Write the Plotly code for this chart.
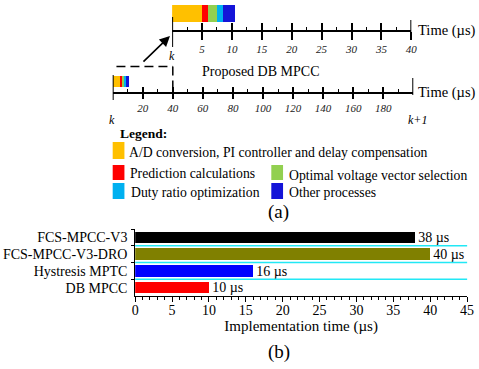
import plotly.graph_objects as go

W, H = 479, 369
SERIF = "Liberation Serif"

# Breakdown of one DB MPCC control period (µs)
processes = [
    "A/D conversion, PI controller and delay compensation",
    "Prediction calculations",
    "Optimal voltage vector selection",
    "Duty ratio optimization",
    "Other processes",
]
process_times = [5.0, 1.0, 1.6, 1.0, 1.9]
process_colors = ["#FFC000", "#FF0000", "#92D050", "#00B0F0", "#1414D8"]

zoom_ticks = [5, 10, 15, 20, 25, 30, 35, 40]
zoom_minor = [2.5, 7.5, 12.5, 17.5, 22.5, 27.5, 32.5, 37.5]
period_ticks = [20, 40, 60, 80, 100, 120, 140, 160, 180]
period_minor = [10, 30, 50, 70, 90, 110, 130, 150, 170, 190]
zoom_span = 40
period = 200

# Implementation time comparison
methods = ["FCS-MPCC-V3", "FCS-MPCC-V3-DRO", "Hystresis MPTC", "DB MPCC"]
impl_times = [38, 40, 16, 10]
method_colors = ["#000000", "#808000", "#0000FF", "#FF0000"]


def px(x):
    return x / W


def py(y):
    return 1 - y / H


fig = go.Figure()

# (a) stacked process bars on the magnified and the full-period time axes
for name, t, c in zip(processes, process_times, process_colors):
    for xa, ya in (("x2", "y2"), ("x3", "y3")):
        fig.add_trace(go.Bar(
            x=[t], y=[0], orientation="h", width=1, name=name,
            marker=dict(color=c, line=dict(width=0)),
            xaxis=xa, yaxis=ya, showlegend=False, hoverinfo="skip",
        ))

# helper traces so the overlay tick axes get drawn
fig.add_trace(go.Scatter(x=[None], y=[None], xaxis="x4", yaxis="y2",
                         showlegend=False, hoverinfo="skip"))
fig.add_trace(go.Scatter(x=[None], y=[None], xaxis="x5", yaxis="y3",
                         showlegend=False, hoverinfo="skip"))

# (b) implementation time bars
fig.add_trace(go.Bar(
    x=impl_times, y=methods, orientation="h", width=0.7,
    marker=dict(color=method_colors, line=dict(width=0)),
    texttemplate="%{x} µs", textposition="outside", constraintext="none",
    textfont=dict(family=SERIF, size=14, color="black"),
    cliponaxis=False, showlegend=False, hoverinfo="skip",
    xaxis="x", yaxis="y",
))

tick_font_it = dict(family=SERIF, size=11, color="#222", style="italic")
common_time_axis = dict(showgrid=False, zeroline=False, fixedrange=True)

layout_axes = dict(
    xaxis=dict(
        domain=[px(134), px(473)], range=[0, 45], anchor="y",
        showline=True, linecolor="black", linewidth=1,
        ticks="outside", ticklen=5, tickcolor="black", tick0=0, dtick=5,
        minor=dict(ticks="outside", ticklen=3, dtick=1, tickcolor="black"),
        showgrid=False, zeroline=False, ticklabelstandoff=-4,
        tickfont=dict(family=SERIF, size=14, color="black"),
        title=dict(text="Implementation time (µs)", standoff=0,
                   font=dict(family=SERIF, size=15, color="black")),
    ),
    yaxis=dict(
        domain=[py(296), py(229)], anchor="x", type="category",
        categoryorder="array", categoryarray=methods, range=[3.5, -0.5],
        tickmode="linear", tick0=0, dtick=1,
        showline=True, linecolor="black", linewidth=1,
        ticks="outside", ticklen=3, tickcolor="black", tickson="boundaries",
        showgrid=False, zeroline=False, ticklabelstandoff=4,
        tickfont=dict(family=SERIF, size=14, color="black"),
    ),
    xaxis2=dict(
        domain=[px(171.7), px(416)], range=[0, zoom_span], anchor="free",
        position=py(31), showline=True, linecolor="black", linewidth=1.5,
        tickmode="array", tickvals=zoom_ticks, ticks="outside", ticklen=8,
        tickwidth=1.6, tickcolor="black", tickfont=tick_font_it,
        **common_time_axis,
    ),
    xaxis4=dict(
        overlaying="x2", range=[0, zoom_span], anchor="free", position=py(31),
        showline=False, tickmode="array", tickvals=zoom_ticks,
        ticks="inside", ticklen=8, tickwidth=1.6, tickcolor="black",
        showticklabels=False,
        minor=dict(tickmode="array", tickvals=zoom_minor, ticks="inside",
                   ticklen=4, tickwidth=1.2, tickcolor="black"),
        **common_time_axis,
    ),
    yaxis2=dict(domain=[py(22), py(5)], range=[-0.5, 0.5], anchor="x2",
                visible=False, fixedrange=True),
    xaxis3=dict(
        domain=[px(111), px(418)], range=[0, period], anchor="free",
        position=py(93), showline=True, linecolor="black", linewidth=1.5,
        tickmode="array", tickvals=period_ticks, ticks="outside", ticklen=5,
        tickwidth=1.6, tickcolor="black", tickfont=tick_font_it,
        **common_time_axis,
    ),
    xaxis5=dict(
        overlaying="x3", range=[0, period], anchor="free", position=py(93),
        showline=False, tickmode="array", tickvals=period_ticks,
        ticks="inside", ticklen=6, tickwidth=1.6, tickcolor="black",
        showticklabels=False,
        minor=dict(tickmode="array", tickvals=period_minor, ticks="inside",
                   ticklen=4, tickwidth=1.2, tickcolor="black"),
        **common_time_axis,
    ),
    yaxis3=dict(domain=[py(87), py(76)], range=[-0.5, 0.5], anchor="x3",
                visible=False, fixedrange=True),
)

shapes = [
    # period start / end markers
    dict(type="line", xref="x2", yref="paper", x0=0, x1=0, y0=py(47), y1=py(17),
         line=dict(color="black", width=2)),
    dict(type="line", xref="x2", yref="paper", x0=zoom_span, x1=zoom_span,
         y0=py(33), y1=py(20), line=dict(color="black", width=2)),
    dict(type="line", xref="x3", yref="paper", x0=0, x1=0, y0=py(100), y1=py(75),
         line=dict(color="black", width=2)),
    dict(type="line", xref="x3", yref="paper", x0=period, x1=period,
         y0=py(95), y1=py(78), line=dict(color="black", width=2)),
    # dashed window that is magnified above
    dict(type="line", xref="x3", yref="paper", x0=2.5, x1=zoom_span,
         y0=py(66.5), y1=py(66.5), line=dict(color="black", width=1.5, dash="9px,5px")),
    dict(type="line", xref="x3", yref="paper", x0=zoom_span, x1=zoom_span,
         y0=py(66.5), y1=py(93), line=dict(color="black", width=1.5, dash="9px,5px")),
]

# separators between the method rows
for i in range(len(methods) - 1):
    shapes.append(dict(type="line", xref="x domain", yref="y", x0=0, x1=1,
                       y0=i + 0.5, y1=i + 0.5,
                       line=dict(color="#22E8F5", width=1.5)))

annotations = []
TEXT_PAD = 4  # annotation box padding in px


def text(x, y, s, size=13, xanchor="left", **font_extra):
    if xanchor == "left":
        x -= TEXT_PAD
    annotations.append(dict(
        x=px(x), y=py(y), xref="paper", yref="paper", text=s, showarrow=False,
        xanchor=xanchor, yanchor="middle",
        font=dict(family=SERIF, size=size, color="black", **font_extra),
    ))


text(425, 30, "Time (µs)", size=14.5)
text(425, 92, "Time (µs)", size=14.5)
text(262, 72, "Proposed DB MPCC", size=14, xanchor="center")
text(171.5, 56, "k", size=12, xanchor="center", style="italic")
text(110, 120, "k", size=12, xanchor="center", style="italic")
text(422, 120, "k+1", size=12, xanchor="center", style="italic")
text(120, 133, "<b>Legend:</b>", size=13.5)
text(280, 212, "(a)", size=19, xanchor="center")
text(281, 352, "(b)", size=19, xanchor="center")

# arrow from the dashed window to the magnified axis
annotations.append(dict(
    x=px(169.5), y=py(36), xref="paper", yref="paper", ax=-28, ay=27,
    text="", showarrow=True, arrowhead=2, arrowsize=1.3, arrowwidth=1.6,
    arrowcolor="black",
))

# legend: swatch box (x0, x1, y0, y1) and label position for each process
legend_boxes = [(111, 123, 142, 159), (111, 123, 165, 180), (273, 285, 165, 180),
                (111, 123, 183, 199), (273, 285, 183, 199)]
legend_text_pos = [(130, 152), (131, 173), (293, 175), (132, 192), (293, 192)]
for name, c, box, tp in zip(processes, process_colors, legend_boxes, legend_text_pos):
    x0, x1, y0, y1 = box
    shapes.append(dict(type="rect", xref="paper", yref="paper",
                       x0=px(x0), x1=px(x1), y0=py(y1), y1=py(y0),
                       fillcolor=c, line=dict(width=0)))
    text(tp[0], tp[1], name, size=13.7)

fig.update_layout(
    width=W, height=H, margin=dict(l=0, r=0, t=0, b=0),
    paper_bgcolor="white", plot_bgcolor="rgba(0,0,0,0)",
    barmode="stack", bargap=0,
    shapes=shapes, annotations=annotations,
    font=dict(family=SERIF, color="black"),
    **layout_axes,
)

fig.write_html("out.html")
